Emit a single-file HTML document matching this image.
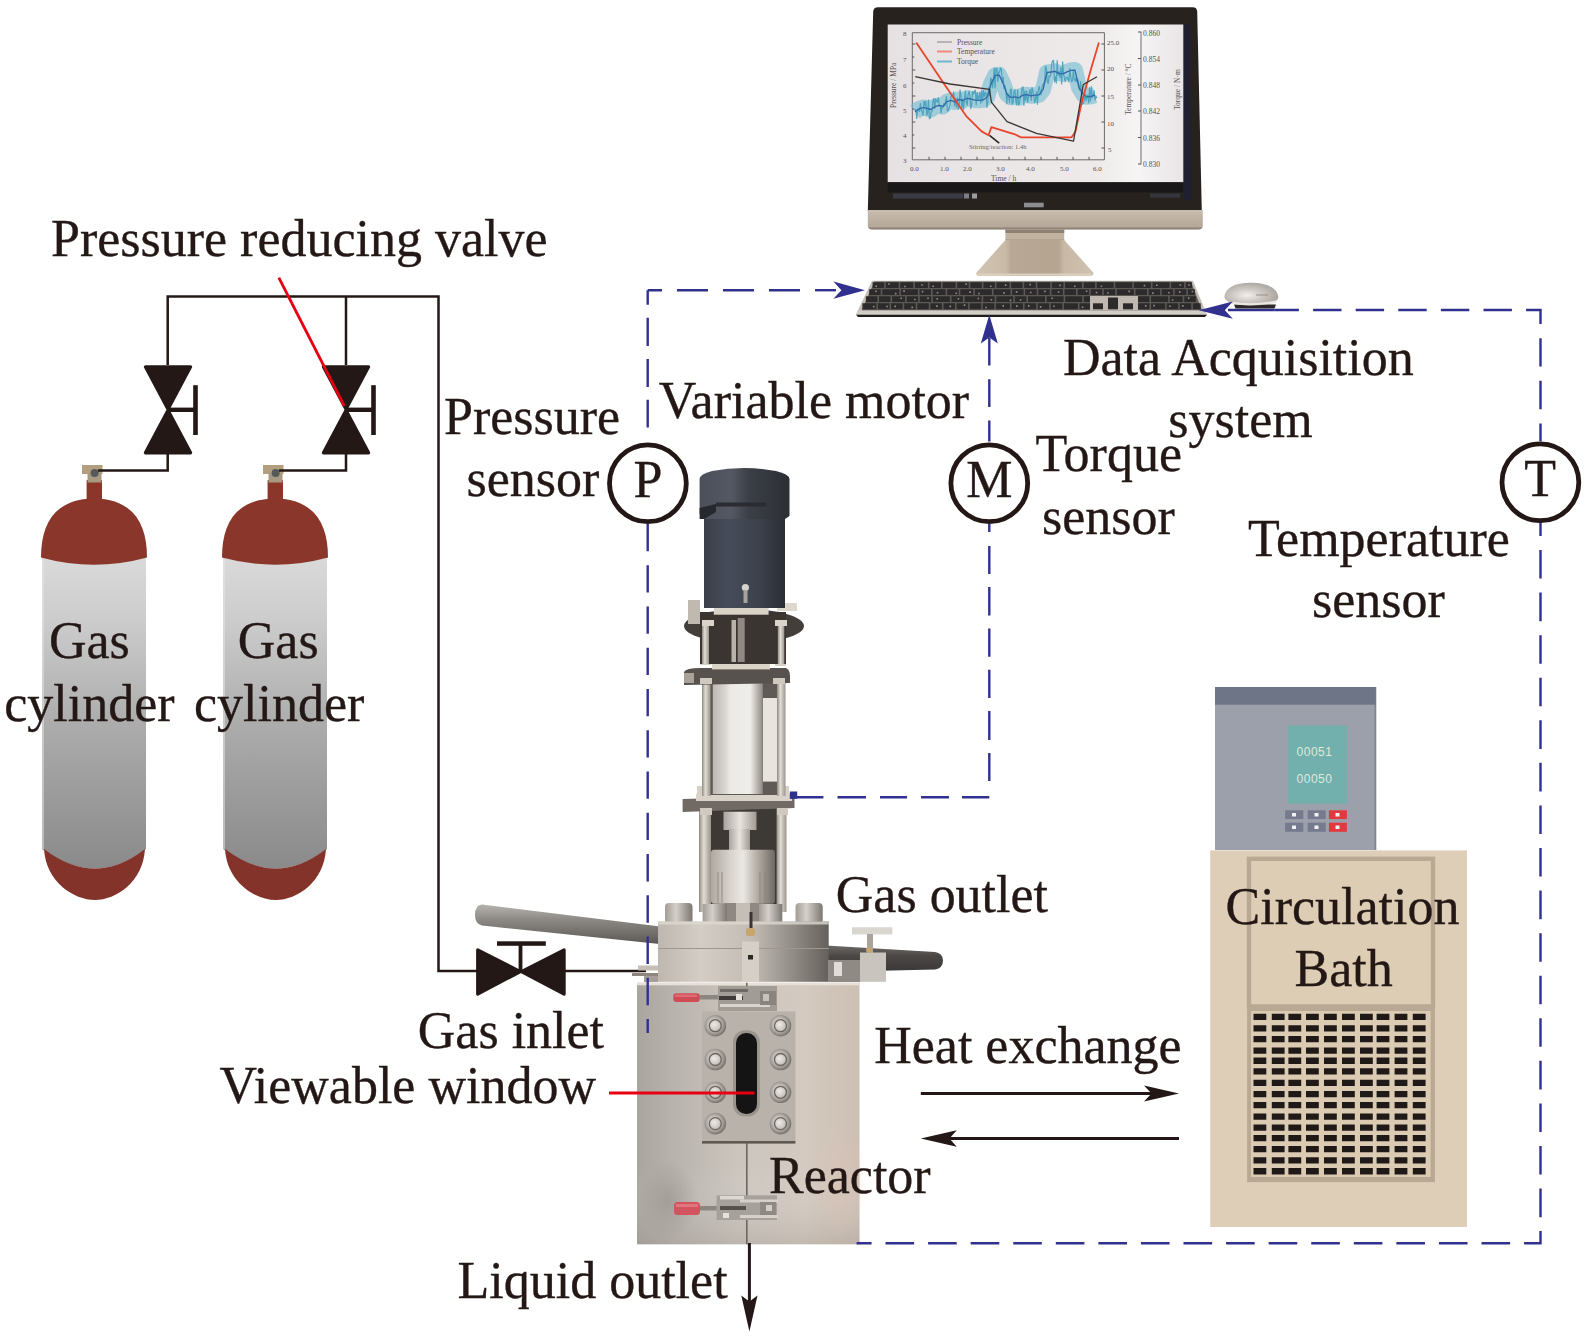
<!DOCTYPE html>
<html><head><meta charset="utf-8">
<style>
html,body{margin:0;padding:0;background:#fff;}
svg{display:block;}
text{font-family:"Liberation Serif",serif;font-size:52px;fill:#231815;stroke:#231815;stroke-width:0.35px;}
.scr text{font-size:7px;fill:#575050;stroke:none;}
</style></head><body>
<svg width="1586" height="1336" viewBox="0 0 1586 1336">
<defs>
  <linearGradient id="rodg" x1="0" y1="0" x2="0" y2="1">
    <stop offset="0" stop-color="#b7b3ae"/><stop offset="0.35" stop-color="#8d8984"/><stop offset="1" stop-color="#56524f"/>
  </linearGradient>
  <linearGradient id="rod2g" x1="0" y1="0" x2="0" y2="1">
    <stop offset="0" stop-color="#6d6966"/><stop offset="0.4" stop-color="#4a4745"/><stop offset="1" stop-color="#3a3837"/>
  </linearGradient>
  <linearGradient id="rodvg" x1="0" y1="0" x2="1" y2="0">
    <stop offset="0" stop-color="#8f8982"/><stop offset="0.4" stop-color="#e2ddd5"/><stop offset="1" stop-color="#9a948c"/>
  </linearGradient>
  <linearGradient id="cplg" x1="0" y1="0" x2="1" y2="0">
    <stop offset="0" stop-color="#aaa49c"/><stop offset="0.5" stop-color="#e8e4de"/><stop offset="1" stop-color="#a09a92"/>
  </linearGradient>
  <linearGradient id="cyl2g" x1="0" y1="0" x2="1" y2="0">
    <stop offset="0" stop-color="#aea8a0"/><stop offset="0.3" stop-color="#d8d3cc"/><stop offset="0.5" stop-color="#ebe8e3"/><stop offset="0.7" stop-color="#b9b3ab"/><stop offset="1" stop-color="#6f6963"/>
  </linearGradient>
  <linearGradient id="glassg" x1="0" y1="0" x2="1" y2="0">
    <stop offset="0" stop-color="#bdb8b2"/><stop offset="0.25" stop-color="#d9d6d1"/><stop offset="0.35" stop-color="#eceae5"/><stop offset="0.75" stop-color="#efede9"/><stop offset="0.9" stop-color="#b6b1ab"/><stop offset="1" stop-color="#8d8882"/>
  </linearGradient>
  <linearGradient id="motg" x1="0" y1="0" x2="1" y2="0">
    <stop offset="0" stop-color="#3a3f4a"/><stop offset="0.3" stop-color="#464c59"/><stop offset="0.7" stop-color="#3b404c"/><stop offset="1" stop-color="#2a2d34"/>
  </linearGradient>
  <linearGradient id="motcapg" x1="0" y1="0" x2="1" y2="0">
    <stop offset="0" stop-color="#4a4f59"/><stop offset="0.35" stop-color="#535862"/><stop offset="0.55" stop-color="#3b3f47"/><stop offset="1" stop-color="#2c2e34"/>
  </linearGradient>
  <linearGradient id="boltg" x1="0" y1="0" x2="1" y2="0">
    <stop offset="0" stop-color="#a29c95"/><stop offset="0.4" stop-color="#d5d0c9"/><stop offset="1" stop-color="#7d7771"/>
  </linearGradient>
  <linearGradient id="headg" x1="0" y1="0" x2="1" y2="0">
    <stop offset="0" stop-color="#bdb7af"/><stop offset="0.25" stop-color="#d3cdc5"/><stop offset="0.55" stop-color="#c2bcb4"/><stop offset="0.8" stop-color="#8f8a84"/><stop offset="1" stop-color="#65605b"/>
  </linearGradient>
  <linearGradient id="bodyg" x1="0" y1="0" x2="1" y2="0">
    <stop offset="0" stop-color="#aaa49e"/><stop offset="0.15" stop-color="#b8b2ac"/><stop offset="0.45" stop-color="#cbc5be"/><stop offset="0.75" stop-color="#d4cac0"/><stop offset="1" stop-color="#cdbfb3"/>
  </linearGradient>
  <linearGradient id="bodyv" x1="0" y1="0" x2="0" y2="1">
    <stop offset="0" stop-color="#ffffff" stop-opacity="0"/><stop offset="0.7" stop-color="#ffffff" stop-opacity="0"/><stop offset="1" stop-color="#8f8780" stop-opacity="0.25"/>
  </linearGradient>
  <radialGradient id="smudge" cx="0.5" cy="0.5" r="0.5">
    <stop offset="0" stop-color="#8a837d" stop-opacity="0.45"/><stop offset="1" stop-color="#8a837d" stop-opacity="0"/>
  </radialGradient>
  <radialGradient id="pinkg" cx="0.5" cy="0.5" r="0.5">
    <stop offset="0" stop-color="#dcc3b8" stop-opacity="0.6"/><stop offset="1" stop-color="#dcc3b8" stop-opacity="0"/>
  </radialGradient>
  <radialGradient id="bgr" cx="0.45" cy="0.45" r="0.55">
    <stop offset="0" stop-color="#eeebe7"/><stop offset="0.45" stop-color="#cdc8c2"/><stop offset="0.8" stop-color="#9a948e"/><stop offset="1" stop-color="#77716c"/>
  </radialGradient>

  <linearGradient id="ching" x1="0" y1="0" x2="0" y2="1">
    <stop offset="0" stop-color="#c9bdb0"/><stop offset="0.3" stop-color="#c2b5a7"/><stop offset="0.85" stop-color="#b6a898"/><stop offset="1" stop-color="#7a6f66"/>
  </linearGradient>
  <linearGradient id="scrg" x1="0" y1="0" x2="1" y2="0">
    <stop offset="0" stop-color="#e6e1e2"/><stop offset="0.7" stop-color="#eeeaea"/><stop offset="0.85" stop-color="#f6f4f4"/><stop offset="1" stop-color="#e9e5e6"/>
  </linearGradient>
  <linearGradient id="standg" x1="0" y1="0" x2="1" y2="0">
    <stop offset="0" stop-color="#d2c5b4"/><stop offset="0.25" stop-color="#c9baa7"/><stop offset="0.3" stop-color="#b7a794"/><stop offset="0.7" stop-color="#b5a591"/><stop offset="0.75" stop-color="#c8b9a6"/><stop offset="1" stop-color="#d0c2b0"/>
  </linearGradient>
  <radialGradient id="mouseg" cx="0.42" cy="0.55" r="0.65">
    <stop offset="0" stop-color="#f3f0ec"/><stop offset="0.45" stop-color="#cdc7c1"/><stop offset="1" stop-color="#a39d97"/>
  </radialGradient>

  <linearGradient id="cylg" x1="0" y1="0" x2="0" y2="1">
    <stop offset="0" stop-color="#dadada"/>
    <stop offset="0.2" stop-color="#cdcdcd"/>
    <stop offset="0.55" stop-color="#ababab"/>
    <stop offset="1" stop-color="#8a8a8a"/>
  </linearGradient>
  <marker id="ahB" viewBox="0 0 32 18" refX="32" refY="9" markerWidth="32" markerHeight="18" markerUnits="userSpaceOnUse" orient="auto">
    <path d="M0,0 L32,9 L0,18 L8,9 Z" fill="#231815"/>
  </marker>
  <g id="cyl">
    <!-- body -->
    <path d="M42,555 H146 V849 Q95,888 42,849 Z" fill="url(#cylg)"/>
    <rect x="42" y="560" width="2" height="289" fill="#e8e8e8" opacity="0.5"/>
    <!-- bottom cap -->
    <path d="M44,849 C46,882 74,900 95,900 C116,900 143,882 145,849 Q95,888 44,849 Z" fill="#84332a"/>
    <!-- dome -->
    <path d="M41,557.5 C41,522 56,499 94,498.5 C132,499 147,522 147,557.5 Q94,572 41,557.5 Z" fill="#8a362b"/>
    <rect x="86.6" y="480" width="15.4" height="22" fill="#8a362b"/>
    <!-- valve cap -->
    <rect x="82" y="465" width="20.5" height="9" fill="#b39f7e"/>
    <rect x="87.5" y="473" width="14" height="9.5" fill="#a89a80"/>
    <circle cx="94.6" cy="473" r="4" fill="#55595a"/>
  </g>
  <g id="valveV">
    <path d="M-22.6,-43 L22.6,-43 L0,-0.5 Z M-22.6,43 L22.6,43 L0,0.5 Z" fill="#231815" stroke="#231815" stroke-width="3.2" stroke-linejoin="round"/>
    <rect x="0" y="-2.2" width="28" height="4.4" fill="#231815"/>
    <rect x="25.2" y="-24.6" width="4.6" height="49.8" fill="#231815"/>
  </g>
</defs>

<!-- ============ GAS CYLINDERS ============ -->
<use href="#cyl"/>
<use href="#cyl" x="181"/>

<!-- ============ BLACK PIPES ============ -->
<g fill="none" stroke="#231815" stroke-width="2.5">
  <polyline points="167.7,365 167.7,296.5 438.5,296.5 438.5,971 477,971"/>
  <line x1="346" y1="296.5" x2="346" y2="365"/>
  <line x1="565" y1="971" x2="646" y2="971"/>
  <polyline points="167.7,454 167.7,470.5 98,470.5"/>
  <polyline points="346,454 346,470.5 279,470.5"/>
</g>

<!-- gas inlet valve -->
<path d="M477.7,949.9 L520.4,971.6 L477.7,994 Z M564.1,949.9 L521.4,971.6 L564.1,994 Z" fill="#231815" stroke="#231815" stroke-width="3.2" stroke-linejoin="round"/>
<rect x="518.6" y="943" width="3.8" height="28" fill="#231815"/>
<rect x="497" y="941.3" width="48.8" height="4.5" fill="#231815"/>
<use href="#valveV" x="168" y="409.8"/>
<use href="#valveV" x="346" y="409.8"/>


<!-- ============ CIRCULATION BATH ============ -->
<g id="bath">
  <rect x="1215" y="687" width="160.7" height="163" fill="#9ca0ab"/>
  <rect x="1374.5" y="687" width="1.8" height="163" fill="#7d8496"/>
  <rect x="1215" y="687" width="160.7" height="17.7" fill="#6e7586"/>
  <rect x="1288.3" y="725.6" width="58.6" height="78" fill="#71b0ad"/>
  <text x="1314.5" y="755.5" text-anchor="middle" style="font-family:'Liberation Sans',sans-serif;font-size:12px;fill:#dfe9d9;stroke:none;letter-spacing:0.5px">00051</text>
  <text x="1314.5" y="782.8" text-anchor="middle" style="font-family:'Liberation Sans',sans-serif;font-size:12px;fill:#dfe9d9;stroke:none;letter-spacing:0.5px">00050</text>
  <rect x="1285.1" y="810.3" width="18.2" height="8.8" fill="#767a8e"/>
  <rect x="1307.7" y="810.3" width="18" height="8.8" fill="#767a8e"/>
  <rect x="1328.9" y="810.3" width="18" height="8.8" fill="#e03a3f"/>
  <rect x="1285.1" y="822.7" width="18.2" height="9.1" fill="#767a8e"/>
  <rect x="1307.7" y="822.7" width="18" height="9.1" fill="#767a8e"/>
  <rect x="1328.9" y="822.7" width="18" height="9.1" fill="#e03a3f"/>
  <g fill="#f2f2f2">
    <rect x="1292" y="813" width="4" height="3.5"/><rect x="1314.5" y="813" width="4" height="3.5"/><rect x="1335.5" y="813" width="4" height="3.5"/>
    <rect x="1292" y="825.5" width="4" height="3.5"/><rect x="1314.5" y="825.5" width="4" height="3.5"/><rect x="1335.5" y="825.5" width="4" height="3.5"/>
  </g>
  <rect x="1210.2" y="850.4" width="256.8" height="376.6" fill="#dfceb7"/>
  <rect x="1249" y="858.8" width="184" height="147.6" fill="#decdb5" stroke="#b9a893" stroke-width="4.4"/>
  <rect x="1247.1" y="1005.7" width="187.8" height="176.4" fill="#b9a893"/>
  <rect x="1251" y="1011" width="179.6" height="166" fill="#dccbb3"/>
  <path d="M1253.5,1013.8h12.8v6.3h-12.8zM1271.8,1013.8h12.8v6.3h-12.8zM1288.4,1013.8h12.8v6.3h-12.8zM1306.0,1013.8h12.8v6.3h-12.8zM1324.0,1013.8h12.8v6.3h-12.8zM1342.0,1013.8h12.8v6.3h-12.8zM1360.0,1013.8h12.8v6.3h-12.8zM1376.6,1013.8h12.8v6.3h-12.8zM1394.6,1013.8h12.8v6.3h-12.8zM1412.8,1013.8h12.8v6.3h-12.8zM1253.5,1025.3h12.8v6.3h-12.8zM1271.8,1025.3h12.8v6.3h-12.8zM1288.4,1025.3h12.8v6.3h-12.8zM1306.0,1025.3h12.8v6.3h-12.8zM1324.0,1025.3h12.8v6.3h-12.8zM1342.0,1025.3h12.8v6.3h-12.8zM1360.0,1025.3h12.8v6.3h-12.8zM1376.6,1025.3h12.8v6.3h-12.8zM1394.6,1025.3h12.8v6.3h-12.8zM1412.8,1025.3h12.8v6.3h-12.8zM1253.5,1036.0h12.8v6.3h-12.8zM1271.8,1036.0h12.8v6.3h-12.8zM1288.4,1036.0h12.8v6.3h-12.8zM1306.0,1036.0h12.8v6.3h-12.8zM1324.0,1036.0h12.8v6.3h-12.8zM1342.0,1036.0h12.8v6.3h-12.8zM1360.0,1036.0h12.8v6.3h-12.8zM1376.6,1036.0h12.8v6.3h-12.8zM1394.6,1036.0h12.8v6.3h-12.8zM1412.8,1036.0h12.8v6.3h-12.8zM1253.5,1047.4h12.8v6.3h-12.8zM1271.8,1047.4h12.8v6.3h-12.8zM1288.4,1047.4h12.8v6.3h-12.8zM1306.0,1047.4h12.8v6.3h-12.8zM1324.0,1047.4h12.8v6.3h-12.8zM1342.0,1047.4h12.8v6.3h-12.8zM1360.0,1047.4h12.8v6.3h-12.8zM1376.6,1047.4h12.8v6.3h-12.8zM1394.6,1047.4h12.8v6.3h-12.8zM1412.8,1047.4h12.8v6.3h-12.8zM1253.5,1057.6h12.8v6.3h-12.8zM1271.8,1057.6h12.8v6.3h-12.8zM1288.4,1057.6h12.8v6.3h-12.8zM1306.0,1057.6h12.8v6.3h-12.8zM1324.0,1057.6h12.8v6.3h-12.8zM1342.0,1057.6h12.8v6.3h-12.8zM1360.0,1057.6h12.8v6.3h-12.8zM1376.6,1057.6h12.8v6.3h-12.8zM1394.6,1057.6h12.8v6.3h-12.8zM1412.8,1057.6h12.8v6.3h-12.8zM1253.5,1068.3h12.8v6.3h-12.8zM1271.8,1068.3h12.8v6.3h-12.8zM1288.4,1068.3h12.8v6.3h-12.8zM1306.0,1068.3h12.8v6.3h-12.8zM1324.0,1068.3h12.8v6.3h-12.8zM1342.0,1068.3h12.8v6.3h-12.8zM1360.0,1068.3h12.8v6.3h-12.8zM1376.6,1068.3h12.8v6.3h-12.8zM1394.6,1068.3h12.8v6.3h-12.8zM1412.8,1068.3h12.8v6.3h-12.8zM1253.5,1079.7h12.8v6.3h-12.8zM1271.8,1079.7h12.8v6.3h-12.8zM1288.4,1079.7h12.8v6.3h-12.8zM1306.0,1079.7h12.8v6.3h-12.8zM1324.0,1079.7h12.8v6.3h-12.8zM1342.0,1079.7h12.8v6.3h-12.8zM1360.0,1079.7h12.8v6.3h-12.8zM1376.6,1079.7h12.8v6.3h-12.8zM1394.6,1079.7h12.8v6.3h-12.8zM1412.8,1079.7h12.8v6.3h-12.8zM1253.5,1091.0h12.8v6.3h-12.8zM1271.8,1091.0h12.8v6.3h-12.8zM1288.4,1091.0h12.8v6.3h-12.8zM1306.0,1091.0h12.8v6.3h-12.8zM1324.0,1091.0h12.8v6.3h-12.8zM1342.0,1091.0h12.8v6.3h-12.8zM1360.0,1091.0h12.8v6.3h-12.8zM1376.6,1091.0h12.8v6.3h-12.8zM1394.6,1091.0h12.8v6.3h-12.8zM1412.8,1091.0h12.8v6.3h-12.8zM1253.5,1102.0h12.8v6.3h-12.8zM1271.8,1102.0h12.8v6.3h-12.8zM1288.4,1102.0h12.8v6.3h-12.8zM1306.0,1102.0h12.8v6.3h-12.8zM1324.0,1102.0h12.8v6.3h-12.8zM1342.0,1102.0h12.8v6.3h-12.8zM1360.0,1102.0h12.8v6.3h-12.8zM1376.6,1102.0h12.8v6.3h-12.8zM1394.6,1102.0h12.8v6.3h-12.8zM1412.8,1102.0h12.8v6.3h-12.8zM1253.5,1113.4h12.8v6.3h-12.8zM1271.8,1113.4h12.8v6.3h-12.8zM1288.4,1113.4h12.8v6.3h-12.8zM1306.0,1113.4h12.8v6.3h-12.8zM1324.0,1113.4h12.8v6.3h-12.8zM1342.0,1113.4h12.8v6.3h-12.8zM1360.0,1113.4h12.8v6.3h-12.8zM1376.6,1113.4h12.8v6.3h-12.8zM1394.6,1113.4h12.8v6.3h-12.8zM1412.8,1113.4h12.8v6.3h-12.8zM1253.5,1124.5h12.8v6.3h-12.8zM1271.8,1124.5h12.8v6.3h-12.8zM1288.4,1124.5h12.8v6.3h-12.8zM1306.0,1124.5h12.8v6.3h-12.8zM1324.0,1124.5h12.8v6.3h-12.8zM1342.0,1124.5h12.8v6.3h-12.8zM1360.0,1124.5h12.8v6.3h-12.8zM1376.6,1124.5h12.8v6.3h-12.8zM1394.6,1124.5h12.8v6.3h-12.8zM1412.8,1124.5h12.8v6.3h-12.8zM1253.5,1135.0h12.8v6.3h-12.8zM1271.8,1135.0h12.8v6.3h-12.8zM1288.4,1135.0h12.8v6.3h-12.8zM1306.0,1135.0h12.8v6.3h-12.8zM1324.0,1135.0h12.8v6.3h-12.8zM1342.0,1135.0h12.8v6.3h-12.8zM1360.0,1135.0h12.8v6.3h-12.8zM1376.6,1135.0h12.8v6.3h-12.8zM1394.6,1135.0h12.8v6.3h-12.8zM1412.8,1135.0h12.8v6.3h-12.8zM1253.5,1146.0h12.8v6.3h-12.8zM1271.8,1146.0h12.8v6.3h-12.8zM1288.4,1146.0h12.8v6.3h-12.8zM1306.0,1146.0h12.8v6.3h-12.8zM1324.0,1146.0h12.8v6.3h-12.8zM1342.0,1146.0h12.8v6.3h-12.8zM1360.0,1146.0h12.8v6.3h-12.8zM1376.6,1146.0h12.8v6.3h-12.8zM1394.6,1146.0h12.8v6.3h-12.8zM1412.8,1146.0h12.8v6.3h-12.8zM1253.5,1157.2h12.8v6.3h-12.8zM1271.8,1157.2h12.8v6.3h-12.8zM1288.4,1157.2h12.8v6.3h-12.8zM1306.0,1157.2h12.8v6.3h-12.8zM1324.0,1157.2h12.8v6.3h-12.8zM1342.0,1157.2h12.8v6.3h-12.8zM1360.0,1157.2h12.8v6.3h-12.8zM1376.6,1157.2h12.8v6.3h-12.8zM1394.6,1157.2h12.8v6.3h-12.8zM1412.8,1157.2h12.8v6.3h-12.8zM1253.5,1168.1h12.8v6.3h-12.8zM1271.8,1168.1h12.8v6.3h-12.8zM1288.4,1168.1h12.8v6.3h-12.8zM1306.0,1168.1h12.8v6.3h-12.8zM1324.0,1168.1h12.8v6.3h-12.8zM1342.0,1168.1h12.8v6.3h-12.8zM1360.0,1168.1h12.8v6.3h-12.8zM1376.6,1168.1h12.8v6.3h-12.8zM1394.6,1168.1h12.8v6.3h-12.8zM1412.8,1168.1h12.8v6.3h-12.8z" fill="#1f1a17"/>
</g>

<!-- ============ MONITOR ============ -->
<g id="monitor">
  <path d="M878,7.2 H1192.5 Q1197,7.2 1197.2,11.5 L1201.8,211 H867.8 L873.2,11.5 Q873.5,7.2 878,7.2 Z" fill="#28221f"/>
  <path d="M1183.5,24 H1190 L1192,200 H1183.5 Z" fill="#1e1f35" opacity="0.8"/>
  <path d="M867.8,210 H1202.8 V225.5 Q1202.8,229.5 1198.5,229.5 H872 Q867.8,229.5 867.8,225.5 Z" fill="url(#ching)"/>
  <rect x="887.7" y="24.5" width="295.6" height="157.8" fill="url(#scrg)"/>
  <!-- plot -->
  <g fill="none" stroke-linejoin="round">
    <rect x="912.3" y="32.7" width="192.1" height="127.1" stroke="#6d6a6a" stroke-width="1"/>
    <line x1="1141" y1="31.7" x2="1141" y2="164.3" stroke="#6d6a6a" stroke-width="1"/>
    <path d="M915.0,111.7 L919.0,108.8 L923.0,107.5 L927.0,108.4 L931.0,109.5 L935.0,106.6 L939.0,105.4 L943.0,106.4 L947.0,101.6 L951.0,100.4 L955.0,101.9 L959.0,99.4 L963.0,100.5 L967.0,98.3 L971.0,99.0 L975.0,100.2 L979.0,100.3 L983.0,99.9 L987.0,97.5 L991.0,83.9 L995.0,75.7 L999.0,74.9 L1003.0,83.0 L1007.0,94.3 L1011.0,97.4 L1015.0,96.8 L1019.0,97.8 L1023.0,95.1 L1027.0,94.7 L1031.0,95.8 L1035.0,95.1 L1039.0,94.9 L1043.0,89.7 L1047.0,72.5 L1051.0,72.0 L1055.0,71.3 L1059.0,73.4 L1063.0,73.9 L1067.0,71.8 L1071.0,70.3 L1075.0,70.1 L1079.0,87.5 L1083.0,94.2 L1087.0,96.8 L1091.0,96.3 L1095.0,95.2" stroke="#6fbad0" stroke-width="16" opacity="0.6"/>
    <path d="M915.0,109.0 L915.9,111.1 L916.8,118.4 L917.7,109.1 L918.6,109.9 L919.5,111.4 L920.4,103.3 L921.3,109.8 L922.2,112.1 L923.1,115.3 L924.0,101.3 L924.9,105.4 L925.8,101.1 L926.7,115.4 L927.6,113.0 L928.5,99.9 L929.4,118.7 L930.3,118.2 L931.2,111.8 L932.1,110.8 L933.0,101.4 L933.9,98.3 L934.8,108.4 L935.7,98.8 L936.6,101.2 L937.5,102.0 L938.4,97.5 L939.3,106.0 L940.2,105.3 L941.1,113.1 L942.0,106.4 L942.9,107.7 L943.8,103.7 L944.7,105.9 L945.6,100.6 L946.5,96.5 L947.4,110.9 L948.3,110.7 L949.2,107.6 L950.1,104.9 L951.0,96.9 L951.9,95.2 L952.8,96.3 L953.7,91.9 L954.6,105.7 L955.5,98.3 L956.4,107.2 L957.3,97.9 L958.2,109.3 L959.1,107.0 L960.0,90.0 L960.9,94.1 L961.8,108.1 L962.7,99.2 L963.6,109.4 L964.5,97.6 L965.4,91.1 L966.3,102.2 L967.2,105.1 L968.1,94.9 L969.0,91.1 L969.9,96.0 L970.8,108.6 L971.7,104.4 L972.6,91.5 L973.5,94.0 L974.4,91.1 L975.3,90.2 L976.2,104.8 L977.1,92.4 L978.0,99.9 L978.9,97.6 L979.8,92.4 L980.7,103.2 L981.6,91.1 L982.5,101.2 L983.4,90.6 L984.3,96.6 L985.2,92.4 L986.1,93.5 L987.0,107.4 L987.9,100.8 L988.8,87.6 L989.7,96.0 L990.6,78.1 L991.5,79.3 L992.4,88.0 L993.3,81.8 L994.2,67.8 L995.1,88.0 L996.0,68.3 L996.9,68.3 L997.8,81.5 L998.7,71.9 L999.6,72.2 L1000.5,68.0 L1001.4,69.4 L1002.3,82.9 L1003.2,77.4 L1004.1,88.7 L1005.0,85.9 L1005.9,90.6 L1006.8,103.8 L1007.7,93.3 L1008.6,96.1 L1009.5,102.8 L1010.4,89.7 L1011.3,89.1 L1012.2,104.2 L1013.1,102.4 L1014.0,91.0 L1014.9,89.8 L1015.8,100.8 L1016.7,104.8 L1017.6,89.9 L1018.5,105.0 L1019.4,103.6 L1020.3,98.1 L1021.2,94.4 L1022.1,88.1 L1023.0,86.8 L1023.9,105.3 L1024.8,90.8 L1025.7,100.1 L1026.6,91.1 L1027.5,102.5 L1028.4,97.9 L1029.3,91.9 L1030.2,89.5 L1031.1,100.4 L1032.0,87.4 L1032.9,90.6 L1033.8,97.2 L1034.7,103.0 L1035.6,98.3 L1036.5,91.6 L1037.4,104.3 L1038.3,90.1 L1039.2,86.3 L1040.1,91.4 L1041.0,94.9 L1041.9,87.2 L1042.8,84.7 L1043.7,83.2 L1044.6,82.1 L1045.5,66.2 L1046.4,68.7 L1047.3,81.4 L1048.2,83.5 L1049.1,75.8 L1050.0,76.6 L1050.9,74.0 L1051.8,63.4 L1052.7,60.8 L1053.6,60.4 L1054.5,81.8 L1055.4,76.8 L1056.3,83.1 L1057.2,60.5 L1058.1,75.3 L1059.0,71.6 L1059.9,77.5 L1060.8,67.7 L1061.7,84.0 L1062.6,61.8 L1063.5,73.1 L1064.4,77.7 L1065.3,81.6 L1066.2,77.7 L1067.1,76.9 L1068.0,79.0 L1068.9,82.0 L1069.8,68.4 L1070.7,76.4 L1071.6,81.6 L1072.5,80.9 L1073.4,70.0 L1074.3,79.0 L1075.2,81.4 L1076.1,77.6 L1077.0,82.0 L1077.9,79.3 L1078.8,87.3 L1079.7,90.4 L1080.6,81.6 L1081.5,95.0 L1082.4,104.4 L1083.3,103.6 L1084.2,100.6 L1085.1,93.8 L1086.0,100.7 L1086.9,97.6 L1087.8,94.8 L1088.7,102.8 L1089.6,87.7 L1090.5,101.0 L1091.4,86.6 L1092.3,98.0 L1093.2,95.6 L1094.1,90.6 L1095.0,100.0 L1095.9,95.9 L1096.8,98.3" stroke="#43a0bb" stroke-width="1.2" opacity="0.9"/>
    <path d="M915.0,111.7 L919.0,108.8 L923.0,107.5 L927.0,108.4 L931.0,109.5 L935.0,106.6 L939.0,105.4 L943.0,106.4 L947.0,101.6 L951.0,100.4 L955.0,101.9 L959.0,99.4 L963.0,100.5 L967.0,98.3 L971.0,99.0 L975.0,100.2 L979.0,100.3 L983.0,99.9 L987.0,97.5 L991.0,83.9 L995.0,75.7 L999.0,74.9 L1003.0,83.0 L1007.0,94.3 L1011.0,97.4 L1015.0,96.8 L1019.0,97.8 L1023.0,95.1 L1027.0,94.7 L1031.0,95.8 L1035.0,95.1 L1039.0,94.9 L1043.0,89.7 L1047.0,72.5 L1051.0,72.0 L1055.0,71.3 L1059.0,73.4 L1063.0,73.9 L1067.0,71.8 L1071.0,70.3 L1075.0,70.1 L1079.0,87.5 L1083.0,94.2 L1087.0,96.8 L1091.0,96.3 L1095.0,95.2" stroke="#3269a8" stroke-width="1.3"/>
    <path d="M916.2,42.5 L944.5,84.5 L966,115.8 L981.6,131.4 L988.5,135.3 L991.4,127.1 L1014.9,134.3 L1020.7,137.3 L1071.6,137.3 L1075.5,131.4 L1081.3,104 L1091,68.9 L1098.9,42.5" stroke="#e8452c" stroke-width="1.8"/>
    <path d="M915.2,76.7 L950,84 L989.5,89.4 L991.4,102.1 L1007,121.6 L1036.4,133.4 L1073.5,141.2 L1083.3,84.5 L1097,76.7" stroke="#3b3534" stroke-width="1.3"/>
    <path d="M989.5,135.3 L999.2,143.1" stroke="#2a2423" stroke-width="1.6"/>
    <line x1="937" y1="42" x2="952" y2="42" stroke="#b9b4b4" stroke-width="2"/>
    <line x1="937" y1="51.5" x2="952" y2="51.5" stroke="#f08a7a" stroke-width="2"/>
    <line x1="937" y1="61.5" x2="952" y2="61.5" stroke="#6db8cc" stroke-width="2"/>
  </g>
  <g class="scr">
    <text x="957" y="44.5" style="font-size:7.5px">Pressure</text>
    <text x="957" y="54" style="font-size:7.5px">Temperature</text>
    <text x="957" y="64" style="font-size:7.5px">Torque</text>
    <text x="969" y="148.5" style="font-size:6.5px;fill:#6a6363">Stirring/reaction: 1.4h</text>
    <text x="903" y="36">8</text><text x="903" y="62">7</text><text x="903" y="87.5">6</text><text x="903" y="113">5</text><text x="903" y="137.5">4</text><text x="903" y="162.5">3</text>
    <text x="910" y="171">0.0</text><text x="940" y="171">1.0</text><text x="963" y="171">2.0</text><text x="996" y="171">3.0</text><text x="1026" y="171">4.0</text><text x="1060" y="171">5.0</text><text x="1093" y="171">6.0</text>
    <text x="991" y="180.5" style="font-size:7.5px">Time / h</text>
    <text x="1107" y="45">25.0</text><text x="1107" y="71">20</text><text x="1107" y="98.5">15</text><text x="1107" y="126">10</text><text x="1108" y="152">5</text>
    <text x="1143" y="35.5" style="font-size:7.5px">0.860</text><text x="1143" y="62" style="font-size:7.5px">0.854</text><text x="1143" y="88" style="font-size:7.5px">0.848</text>
    <text x="1143" y="114" style="font-size:7.5px">0.842</text><text x="1143" y="141" style="font-size:7.5px">0.836</text><text x="1143" y="167" style="font-size:7.5px">0.830</text>
    <text transform="translate(895.5,108) rotate(-90)" style="font-size:7.5px">Pressure / MPa</text>
    <text transform="translate(1130.5,115) rotate(-90)" style="font-size:7.5px">Temperature / °C</text>
    <text transform="translate(1180,110) rotate(-90)" style="font-size:7.5px">Torque / N·m</text>
  </g>
  <g stroke="#555" stroke-width="1">
    <path d="M912.3,44h3 M912.3,57h2 M912.3,70h3 M912.3,83h2 M912.3,96h3 M912.3,109h2 M912.3,122h3 M912.3,135h2 M912.3,148h3"/>
    <path d="M1104.4,44h-3 M1104.4,70h-3 M1104.4,96h-3 M1104.4,122h-3 M1104.4,148h-3"/>
    <path d="M1141,32h-3 M1141,58.5h-3 M1141,85h-3 M1141,111h-3 M1141,137.5h-3 M1141,164h-3"/>
    <path d="M929,159.8v-3 M945,159.8v-3 M961,159.8v-3 M977,159.8v-3 M993,159.8v-3 M1009,159.8v-3 M1025,159.8v-3 M1041,159.8v-3 M1057,159.8v-3 M1073,159.8v-3 M1089,159.8v-3"/>
  </g>
  <!-- taskbar -->
  <rect x="887.7" y="182.3" width="295.6" height="10" fill="#1a1719"/>
  <rect x="893" y="193.5" width="70" height="5" fill="#3a3c45"/>
  <rect x="964" y="193.5" width="5" height="5" fill="#7c7e88"/><rect x="972" y="193.5" width="5" height="5" fill="#9a9ca4"/>
  <rect x="1150" y="193.5" width="30" height="4" fill="#34363e"/>
  <rect x="1024" y="202.7" width="19.7" height="4.6" fill="#8d8c90"/>
  <!-- stand -->
  <rect x="1005.4" y="229.5" width="58.8" height="11" fill="#c2b3a1"/>
  <rect x="1005.4" y="229.5" width="58.8" height="3.5" fill="#8e8172"/>
  <rect x="1005.4" y="239.5" width="58.8" height="4" fill="#a39584"/>
  <path d="M1005.4,240 H1064.2 L1093.4,272.7 Q1094,276 1090,276 H980 Q976,276 976.3,272.7 Z" fill="url(#standg)"/>
  <rect x="978" y="273.5" width="113" height="2.2" fill="#ddd1c1"/>
</g>
<!-- keyboard -->
<g id="keyboard">
  <path d="M872,280.8 H1193 L1207,314.7 H855.8 Z" fill="#c3bdb5"/>
  <path d="M874.5,281.6 H1191 L1202,310.5 H861.5 Z" fill="#5d5955"/>
  <path d="M872.6,282.2h11.5v5.8h-11.5zM885.7,282.2h13.0v5.8h-13.0zM900.3,282.2h13.0v5.8h-13.0zM914.9,282.2h13.0v5.8h-13.0zM929.5,282.2h11.5v5.8h-11.5zM942.6,282.2h13.0v5.8h-13.0zM957.2,282.2h11.5v5.8h-11.5zM970.3,282.2h11.5v5.8h-11.5zM983.4,282.2h11.5v5.8h-11.5zM996.5,282.2h13.0v5.8h-13.0zM1011.1,282.2h11.5v5.8h-11.5zM1024.2,282.2h11.5v5.8h-11.5zM1037.3,282.2h13.0v5.8h-13.0zM1051.9,282.2h11.5v5.8h-11.5zM1065.0,282.2h17.0v5.8h-17.0zM1083.6,282.2h11.5v5.8h-11.5zM1096.7,282.2h17.0v5.8h-17.0zM1115.3,282.2h17.0v5.8h-17.0zM1133.9,282.2h17.0v5.8h-17.0zM1152.5,282.2h17.0v5.8h-17.0zM1171.1,282.2h13.0v5.8h-13.0zM1185.7,282.2h6.3v5.8h-6.3zM869.2,289.3h11.5v5.7h-11.5zM882.3,289.3h17.0v5.7h-17.0zM900.9,289.3h17.0v5.7h-17.0zM919.5,289.3h11.5v5.7h-11.5zM932.6,289.3h13.0v5.7h-13.0zM947.2,289.3h11.5v5.7h-11.5zM960.3,289.3h13.0v5.7h-13.0zM974.9,289.3h17.0v5.7h-17.0zM993.5,289.3h17.0v5.7h-17.0zM1012.1,289.3h11.5v5.7h-11.5zM1025.2,289.3h11.5v5.7h-11.5zM1038.3,289.3h11.5v5.7h-11.5zM1051.4,289.3h11.5v5.7h-11.5zM1064.5,289.3h11.5v5.7h-11.5zM1077.6,289.3h11.5v5.7h-11.5zM1090.7,289.3h11.5v5.7h-11.5zM1103.8,289.3h11.5v5.7h-11.5zM1116.9,289.3h17.0v5.7h-17.0zM1135.5,289.3h11.5v5.7h-11.5zM1148.6,289.3h11.5v5.7h-11.5zM1161.7,289.3h11.5v5.7h-11.5zM1174.8,289.3h11.5v5.7h-11.5zM1187.9,289.3h7.0v5.7h-7.0zM865.9,296.3h11.5v5.7h-11.5zM879.0,296.3h11.5v5.7h-11.5zM892.1,296.3h13.0v5.7h-13.0zM906.7,296.3h11.5v5.7h-11.5zM919.8,296.3h11.5v5.7h-11.5zM932.9,296.3h17.0v5.7h-17.0zM951.5,296.3h11.5v5.7h-11.5zM964.6,296.3h17.0v5.7h-17.0zM983.2,296.3h11.5v5.7h-11.5zM996.3,296.3h17.0v5.7h-17.0zM1014.9,296.3h11.5v5.7h-11.5zM1028.0,296.3h17.0v5.7h-17.0zM1046.6,296.3h17.0v5.7h-17.0zM1065.2,296.3h17.0v5.7h-17.0zM1083.8,296.3h11.5v5.7h-11.5zM1138.0,296.3h11.5v5.7h-11.5zM1151.1,296.3h17.0v5.7h-17.0zM1169.7,296.3h13.0v5.7h-13.0zM1184.3,296.3h11.5v5.7h-11.5zM862.4,303.3h14.0v5.9h-14.0zM878.0,303.3h11.5v5.9h-11.5zM891.1,303.3h11.5v5.9h-11.5zM904.2,303.3h11.5v5.9h-11.5zM917.3,303.3h11.5v5.9h-11.5zM930.4,303.3h11.5v5.9h-11.5zM943.5,303.3h11.5v5.9h-11.5zM956.6,303.3h11.5v5.9h-11.5zM969.7,303.3h11.5v5.9h-11.5zM982.8,303.3h11.5v5.9h-11.5zM995.9,303.3h14.0v5.9h-14.0zM1011.5,303.3h11.5v5.9h-11.5zM1024.6,303.3h11.5v5.9h-11.5zM1037.7,303.3h11.5v5.9h-11.5zM1050.8,303.3h11.5v5.9h-11.5zM1063.9,303.3h14.0v5.9h-14.0zM1079.5,303.3h11.5v5.9h-11.5zM1138.0,303.3h11.5v5.9h-11.5zM1151.1,303.3h14.0v5.9h-14.0zM1166.7,303.3h11.5v5.9h-11.5zM1179.8,303.3h11.5v5.9h-11.5zM1192.9,303.3h7.8v5.9h-7.8z" fill="#2d2a2b"/>
  <path d="M875.4,285.5h1.6v1.6h-1.6zM888.2,283.2h1.6v1.6h-1.6zM904.1,285.7h1.6v1.6h-1.6zM921.3,284.2h1.6v1.6h-1.6zM932.4,285.5h1.6v1.6h-1.6zM965.4,283.3h1.6v1.6h-1.6zM990.0,285.4h1.6v1.6h-1.6zM1004.9,284.3h1.6v1.6h-1.6zM1029.4,283.8h1.6v1.6h-1.6zM1059.3,284.6h1.6v1.6h-1.6zM1074.0,285.5h1.6v1.6h-1.6zM1100.6,285.4h1.6v1.6h-1.6zM1143.7,284.8h1.6v1.6h-1.6zM1156.0,284.4h1.6v1.6h-1.6zM1179.5,284.2h1.6v1.6h-1.6zM1188.2,284.2h1.6v1.6h-1.6zM875.2,290.4h1.6v1.6h-1.6zM894.9,292.8h1.6v1.6h-1.6zM903.3,290.3h1.6v1.6h-1.6zM921.7,290.8h1.6v1.6h-1.6zM936.7,292.0h1.6v1.6h-1.6zM955.4,292.5h1.6v1.6h-1.6zM969.3,291.3h1.6v1.6h-1.6zM978.1,292.7h1.6v1.6h-1.6zM1003.1,292.1h1.6v1.6h-1.6zM1015.8,291.1h1.6v1.6h-1.6zM1029.9,291.7h1.6v1.6h-1.6zM1044.1,290.6h1.6v1.6h-1.6zM1057.8,291.2h1.6v1.6h-1.6zM1085.8,290.4h1.6v1.6h-1.6zM1095.7,291.8h1.6v1.6h-1.6zM1107.0,292.2h1.6v1.6h-1.6zM1128.4,290.6h1.6v1.6h-1.6zM1152.1,292.3h1.6v1.6h-1.6zM1168.1,291.9h1.6v1.6h-1.6zM1178.9,291.1h1.6v1.6h-1.6zM1191.6,290.7h1.6v1.6h-1.6zM900.4,297.4h1.6v1.6h-1.6zM914.1,298.7h1.6v1.6h-1.6zM927.2,297.5h1.6v1.6h-1.6zM936.4,298.0h1.6v1.6h-1.6zM957.6,298.0h1.6v1.6h-1.6zM977.6,297.7h1.6v1.6h-1.6zM990.6,298.9h1.6v1.6h-1.6zM1009.7,299.6h1.6v1.6h-1.6zM1019.8,299.2h1.6v1.6h-1.6zM1051.3,297.5h1.6v1.6h-1.6zM1171.8,299.2h1.6v1.6h-1.6zM1187.9,297.3h1.6v1.6h-1.6zM872.9,305.8h1.6v1.6h-1.6zM886.3,305.7h1.6v1.6h-1.6zM894.4,305.6h1.6v1.6h-1.6zM911.4,306.6h1.6v1.6h-1.6zM936.1,305.3h1.6v1.6h-1.6zM949.5,305.6h1.6v1.6h-1.6zM963.7,304.3h1.6v1.6h-1.6zM985.3,306.7h1.6v1.6h-1.6zM1002.4,305.1h1.6v1.6h-1.6zM1016.0,305.3h1.6v1.6h-1.6zM1027.9,305.1h1.6v1.6h-1.6zM1039.8,306.1h1.6v1.6h-1.6zM1053.1,305.5h1.6v1.6h-1.6zM1081.8,306.5h1.6v1.6h-1.6zM1144.9,305.1h1.6v1.6h-1.6zM1153.3,304.8h1.6v1.6h-1.6zM1169.2,305.4h1.6v1.6h-1.6zM1182.0,305.1h1.6v1.6h-1.6z" fill="#a9a5a1" opacity="0.8"/>
  <rect x="1090" y="296" width="48" height="14" fill="#bfb9b1"/>
  <rect x="1093" y="303.3" width="10" height="6" fill="#2d2a2b"/><rect x="1108" y="297.5" width="10" height="11.8" fill="#2d2a2b"/><rect x="1123" y="303.3" width="10" height="6" fill="#2d2a2b"/>
  <rect x="857" y="310.5" width="349" height="4.3" fill="#d2cdc6"/>
  <path d="M856,314.7 H1207 L1205,317 H858 Z" fill="#1f1d1c"/>
</g>
<!-- mouse -->
<g id="mouse">
  <path d="M1234,304.5 H1276 L1274.5,308.6 H1235.5 Z" fill="#2c2826"/>
  <path d="M1224.3,297 Q1226,283 1251,282.8 Q1276,283 1278.4,297 Q1278,305 1251,305.5 Q1226,305 1224.3,297 Z" fill="url(#mouseg)"/>
  <path d="M1232,301.5 Q1251,305.5 1276,300.5 L1276,303 Q1251,307 1233,304 Z" fill="#ebe7e3"/>
  <path d="M1256,295 H1268" stroke="#8a847f" stroke-width="0.8"/>
</g>

<!-- ============ REACTOR ASSEMBLY ============ -->
<g id="reactor">
  <!-- left handle rod (behind head) -->
  <path d="M482,904.5 L688.6,930 L688.6,947 L482,925.5 Q475,924 475,915 Q475,905 482,904.5 Z" fill="url(#rodg)"/>
  <!-- right handle rod -->
  <path d="M826,945.5 L935,952 Q943,953 943,960.5 Q943,968 935,969.5 L826,972 Z" fill="url(#rod2g)"/>
  <!-- lower drive section rods + interior -->
  <rect x="705" y="808" width="76" height="100" fill="#3d3935"/>
  <rect x="699" y="806" width="12" height="106" fill="url(#rodvg)"/>
  <rect x="776.5" y="806" width="10" height="106" fill="url(#rodvg)"/>
  <rect x="723.5" y="811.7" width="33" height="18.3" fill="url(#cplg)"/>
  <rect x="729" y="829" width="21" height="21" fill="url(#cplg)"/>
  <rect x="711" y="849.7" width="64" height="54" rx="3" fill="url(#cyl2g)"/>
  <g stroke="#8a847d" stroke-width="1.2" opacity="0.7">
    <line x1="718" y1="872" x2="718" y2="903"/><line x1="722" y1="872" x2="722" y2="903"/><line x1="760" y1="872" x2="760" y2="903"/><line x1="765" y1="872" x2="765" y2="903"/><line x1="769" y1="872" x2="769" y2="903"/>
  </g>
  <!-- third flange -->
  <path d="M682.6,799 L794.5,796 L794.5,808 L682.6,812 Z" fill="#716a64"/>
  <rect x="696" y="794" width="96" height="7" fill="#d8d2c9"/>
  <rect x="697" y="786" width="13" height="9" fill="#d6d0c7"/>
  <rect x="777" y="786" width="12" height="9" fill="#d6d0c7"/>
  <rect x="700" y="808" width="12" height="7" fill="#cfc9c0"/>
  <rect x="777" y="808" width="11" height="7" fill="#cfc9c0"/>
  <!-- glass section -->
  <rect x="710" y="679" width="68" height="116" fill="#5f5a55"/>
  <rect x="712.8" y="683" width="50" height="111" fill="url(#glassg)"/>
  <rect x="763" y="698" width="14" height="83.6" fill="#e8e5df"/>
  <rect x="702" y="677" width="8.5" height="119" fill="url(#rodvg)"/>
  <rect x="777" y="677" width="8.5" height="119" fill="url(#rodvg)"/>
  <!-- second flange -->
  <path d="M684,672 Q686,668 700,668 L786,668 Q790,670 790,676 L790,683 L684,685 Z" fill="#57524d"/>
  <rect x="712" y="662" width="58" height="7.4" fill="#dad3c7"/>
  <rect x="700" y="655" width="11" height="10" fill="#d6d0c7"/>
  <rect x="775" y="657" width="11" height="9" fill="#d6d0c7"/>
  <rect x="684" y="673" width="10" height="10" fill="#a8a299"/>
  <rect x="700" y="678" width="12" height="6" fill="#cfc9c0"/>
  <rect x="773" y="678" width="12" height="6" fill="#cfc9c0"/>
  <!-- upper rod section -->
  <ellipse cx="744" cy="626" rx="60" ry="17" fill="#433e3a"/>
  <rect x="700" y="612" width="86" height="52" fill="#3a3531"/>
  <rect x="702" y="622" width="7" height="42" fill="url(#rodvg)"/>
  <rect x="731.5" y="620" width="4.5" height="42" fill="#b9b2a8"/>
  <rect x="737.7" y="618" width="7" height="44" fill="#8f8981"/>
  <rect x="777.8" y="622" width="6.5" height="42" fill="url(#rodvg)"/>
  <rect x="688" y="600" width="12" height="24" fill="#bfb9b0"/>
  <rect x="777" y="603" width="20" height="8" fill="#ddd7cd"/>
  <rect x="702" y="620" width="12" height="6" fill="#d9d3c9"/>
  <rect x="775" y="620" width="12" height="6" fill="#d9d3c9"/>
  <!-- top flange plate -->
  <rect x="713.8" y="606.8" width="54.8" height="7.9" fill="#d9d2c6"/>
  <rect x="741" y="600" width="9" height="8" fill="#cdc6bb"/>
  <!-- motor -->
  <rect x="704" y="517" width="81" height="91" fill="url(#motg)"/>
  <path d="M699.6,514 L699.6,479 Q700,474 712,471 Q744,465 776,471 Q789,474 789.5,479 L789.5,516 L785,519 L704,519 Z" fill="url(#motcapg)"/>
  <rect x="716" y="502.5" width="50" height="4" fill="#2a2c32"/>
  <path d="M699.6,508 L716,504 L716,512 L704,519 L699.6,519 Z" fill="#26282d"/>
  <circle cx="745.4" cy="587.5" r="3.6" fill="#d6d3cf"/>
  <rect x="743.5" y="590" width="4" height="13" fill="#a7a29b"/>
  <rect x="724" y="903" width="38" height="20" fill="#8f8882"/>
  <rect x="736" y="903" width="14" height="20" fill="#c4beb6"/>
  <!-- reactor head bolts -->
  <rect x="665" y="903" width="27.5" height="21" rx="4" fill="url(#boltg)"/>
  <rect x="795.5" y="903" width="27.2" height="21" rx="4" fill="url(#boltg)"/>
  <rect x="702.6" y="904" width="24.4" height="19" fill="url(#boltg)"/>
  <rect x="759" y="904" width="23.3" height="19" fill="url(#boltg)"/>
  <!-- head -->
  <rect x="658" y="921.5" width="170.7" height="60.3" fill="url(#headg)"/>
  <rect x="658" y="921.5" width="170.7" height="3" fill="#ddd8d1" opacity="0.8"/>
  <line x1="658" y1="948.5" x2="828.7" y2="948.5" stroke="#9d978f" stroke-width="1"/>
  <rect x="742" y="941.5" width="17" height="40.5" fill="#d5cfc6"/>
  <rect x="748" y="955" width="5" height="4.5" fill="#2a2623"/>
  <rect x="746" y="928" width="9" height="8" rx="2" fill="#c8a56c"/>
  <rect x="749.5" y="912" width="3" height="16" fill="#3a3532"/>
  <!-- right handle block + T -->
  <rect x="852" y="927.3" width="40.3" height="7.1" fill="#d9d5cf"/>
  <rect x="867" y="934" width="6" height="19" fill="#a9a39c"/>
  <rect x="828" y="960" width="32" height="22" fill="#8f8a84"/>
  <rect x="834" y="962" width="8" height="14" fill="#e0ddd8"/>
  <rect x="860" y="952.5" width="26" height="29.3" fill="#c9c4bd"/>
  <circle cx="869" cy="950" r="3" fill="#c8a56c"/>
  <!-- gas inlet fitting -->
  <rect x="638" y="965.5" width="20" height="5" fill="#c4beb6"/>
  <rect x="632" y="973" width="26" height="3" fill="#8c867f"/>
  <rect x="644" y="976" width="14" height="6" fill="#a59f98"/>
  <!-- reactor body -->
  <rect x="637" y="982.8" width="222.5" height="261.5" fill="url(#bodyg)"/>
  <rect x="637" y="982.8" width="222.5" height="261.5" fill="url(#bodyv)"/>
  <rect x="637" y="982.8" width="222.5" height="2.5" fill="#e6e0d8"/>
  <ellipse cx="668" cy="1200" rx="30" ry="40" fill="url(#smudge)"/>
  <ellipse cx="840" cy="1180" rx="25" ry="60" fill="url(#pinkg)"/>
  <line x1="746.8" y1="1143" x2="746.8" y2="1244.3" stroke="#6d6660" stroke-width="1.6"/>
  <line x1="746.8" y1="982.8" x2="746.8" y2="1011" stroke="#6d6660" stroke-width="1.6"/>
  <!-- window plate -->
  <rect x="702" y="1011.4" width="93.4" height="131.8" fill="#b9b2ab"/>
  <rect x="702" y="1141" width="93.4" height="2.6" fill="#5f5954"/>
  <rect x="733" y="1030.3" width="26.8" height="86.2" rx="12" fill="#9a948e"/>
  <rect x="736" y="1033" width="21" height="81" rx="10" fill="#141414"/>
  <!-- bolts -->
  <g>
    <circle cx="715.3" cy="1025.7" r="10.8" fill="url(#bgr)"/><circle cx="780.5" cy="1025.7" r="10.8" fill="url(#bgr)"/>
    <circle cx="715.3" cy="1059.5" r="10.8" fill="url(#bgr)"/><circle cx="780.5" cy="1059.5" r="10.8" fill="url(#bgr)"/>
    <circle cx="715.3" cy="1092.3" r="10.8" fill="url(#bgr)"/><circle cx="780.5" cy="1092.3" r="10.8" fill="url(#bgr)"/>
    <circle cx="715.3" cy="1123.6" r="10.8" fill="url(#bgr)"/><circle cx="780.5" cy="1123.6" r="10.8" fill="url(#bgr)"/>
  </g>
  <g fill="none" stroke="#6b655f" stroke-width="1.3">
    <circle cx="715.3" cy="1025.7" r="6"/><circle cx="780.5" cy="1025.7" r="6"/>
    <circle cx="715.3" cy="1059.5" r="6"/><circle cx="780.5" cy="1059.5" r="6"/>
    <circle cx="715.3" cy="1092.3" r="6"/><circle cx="780.5" cy="1092.3" r="6"/>
    <circle cx="715.3" cy="1123.6" r="6"/><circle cx="780.5" cy="1123.6" r="6"/>
  </g>
  <!-- clamps -->
  <g id="clampA">
    <rect x="673.3" y="993.3" width="26.5" height="8.7" rx="3" fill="#cf4c55"/>
    <rect x="675" y="994.5" width="22" height="2.5" fill="#e27a82" opacity="0.7"/>
    <rect x="699.8" y="995" width="19" height="4.5" fill="#8d8782"/>
    <rect x="718" y="986" width="59" height="25" fill="#a29c96"/>
    <rect x="720" y="989" width="28" height="3" fill="#6f6a65"/>
    <rect x="719" y="996" width="24" height="4" fill="#3f3a37"/>
    <rect x="720" y="1004" width="50" height="3" fill="#d9d4ce"/>
    <rect x="736" y="994" width="6" height="6" fill="#e6e2dc"/>
    <rect x="760" y="991" width="16" height="14" fill="#8a847f"/>
    <rect x="763" y="994" width="6" height="7" fill="#c8c3bd"/>
  </g>
  <rect x="674" y="1202" width="26" height="13" rx="3.5" fill="#d2545e"/>
  <rect x="676" y="1204" width="22" height="3" fill="#e6868e" opacity="0.7"/>
  <rect x="700" y="1206" width="17" height="4.5" fill="#8d8782"/>
  <rect x="716.5" y="1195.3" width="60.5" height="24.7" fill="#a7a19b"/>
  <rect x="720" y="1196" width="24" height="3.5" fill="#ddd8d2"/>
  <rect x="740" y="1199.5" width="38" height="3" fill="#d6d1cb"/>
  <rect x="720" y="1206" width="26" height="4" fill="#56514d"/>
  <rect x="740" y="1215" width="38" height="3" fill="#d6d1cb"/>
  <rect x="760" y="1202" width="16" height="13" fill="#8f8984"/>
  <rect x="766" y="1205" width="6" height="6" fill="#d3cec8"/>
  <rect x="723" y="1213" width="6" height="5" fill="#e6e2dc"/>
</g>

<!-- PHOTOS-PLACEHOLDER -->

<!-- ============ DASHED SIGNAL LINES ============ -->
<g fill="none" stroke="#30318f" stroke-width="2.4">
  <path d="M800,290.2 H647.7" stroke-dasharray="31 15"/>
  <path d="M647.7,290.2V304.8 M647.7,317.7V346.1 M647.7,359.1V386.9 M647.7,399.8V427.6"/>
  <path d="M815,290.2 H836"/>
  <path d="M647.7,524 V1033" stroke-dasharray="27.3 13.96"/>
  <path d="M989.3,441.4V420.6 M989.3,407V379.2 M989.3,365.6V338"/>
  <path d="M989.3,524V532 M989.3,546V574 M989.3,587V615.5 M989.3,628.5V656.7 M989.3,669.7V698 M989.3,711V740 M989.3,753V781"/>
  <path d="M989.3,797.2H962 M949,797.2H921 M907,797.2H880 M866,797.2H837.5 M823.4,797.2H796"/>
  <path d="M1540.5,441.3 V310 H1274.2" stroke-dasharray="28.4 14.2" stroke-dashoffset="10.5"/>
  <path d="M1274.2,310 H1228"/>
  <path d="M1540.5,522 V1243.3 H856.6" stroke-dasharray="28.6 13.97" stroke-dashoffset="14.57"/>
</g>
<g fill="#30318f">
  <path d="M865,290.2 L833.4,281.6 L841.4,290.2 L833.4,298.8 Z"/>
  <path d="M989.3,314.7 L980.8,343.5 L989.3,337.5 L997.8,343.5 Z"/>
  <path d="M1198.8,310.2 L1232.8,301.6 L1224.8,310.2 L1232.8,318.8 Z"/>
  <rect x="789.8" y="791.5" width="7.4" height="7.4"/>
</g>

<!-- ============ BLACK ARROWS ============ -->
<g stroke="#231815" stroke-width="3" fill="none">
  <line x1="920.8" y1="1093.6" x2="1155" y2="1093.6"/>
  <line x1="945" y1="1138.5" x2="1179" y2="1138.5"/>
  <line x1="749.4" y1="1243" x2="749.4" y2="1305"/>
</g>
<g fill="#231815">
  <path d="M1179,1093.6 L1144,1085.6 L1151.5,1093.6 L1144,1101.6 Z"/>
  <path d="M920.8,1138.5 L956.7,1130.3 L949.5,1138.5 L956.7,1146.7 Z"/>
  <path d="M749.4,1331.6 L741.3,1295.5 L749.4,1301.5 L757.5,1295.5 Z"/>
</g>

<!-- red pointer lines -->
<line x1="278.8" y1="277.6" x2="344.3" y2="406" stroke="#e60012" stroke-width="2.8"/>
<line x1="609" y1="1093" x2="754.5" y2="1093" stroke="#e60012" stroke-width="2.8"/>

<!-- ============ TEXT ============ -->
<text transform="translate(51.0,256.0) scale(1,1.03)">Pressure reducing valve</text>
<text transform="translate(444.0,433.9) scale(1,1.03)">Pressure</text>
<text transform="translate(466.4,496.3) scale(1,1.03)">sensor</text>
<text transform="translate(658.8,417.6) scale(1,1.03)">Variable motor</text>
<text transform="translate(1062.9,374.9) scale(1,1.03)">Data Acquisition</text>
<text transform="translate(1168.3,436.5) scale(1,1.03)">system</text>
<text transform="translate(1035.5,471.4) scale(1,1.03)">Torque</text>
<text transform="translate(1042.0,534.2) scale(1,1.03)">sensor</text>
<text transform="translate(1248.0,555.7) scale(1,1.03)">Temperature</text>
<text transform="translate(1312.0,617.0) scale(1,1.03)">sensor</text>
<text transform="translate(49.0,658.0) scale(1,1.03)">Gas</text>
<text transform="translate(4.3,720.6) scale(1,1.03)">cylinder</text>
<text transform="translate(237.8,658.0) scale(1,1.03)">Gas</text>
<text transform="translate(194.0,720.6) scale(1,1.03)">cylinder</text>
<text transform="translate(835.8,912.4) scale(1,1.03)">Gas outlet</text>
<text transform="translate(417.8,1047.9) scale(1,1.03)">Gas inlet</text>
<text transform="translate(219.4,1103.0) scale(1,1.03)">Viewable window</text>
<text transform="translate(769.0,1193.0) scale(1,1.03)">Reactor</text>
<text transform="translate(874.2,1063.2) scale(1,1.03)">Heat exchange</text>
<text transform="translate(457.6,1297.5) scale(1,1.03)">Liquid outlet</text>
<text transform="translate(1225.6,924.0) scale(1,1.03)">Circulation</text>
<text transform="translate(1294.6,986.3) scale(1,1.03)">Bath</text>

<!-- sensor circles -->
<g fill="none" stroke="#231815" stroke-width="4.8">
  <circle cx="647.9" cy="483.3" r="38.4"/>
  <circle cx="989.3" cy="483.2" r="38.4"/>
  <circle cx="1540.4" cy="482.3" r="38.4"/>
</g>
<text transform="translate(648.0,496.7) scale(1,1.03)" text-anchor="middle">P</text>
<text transform="translate(989.3,497.0) scale(1,1.03)" text-anchor="middle">M</text>
<text transform="translate(1540.0,496.0) scale(1,1.03)" text-anchor="middle">T</text>

</svg>
</body></html>
